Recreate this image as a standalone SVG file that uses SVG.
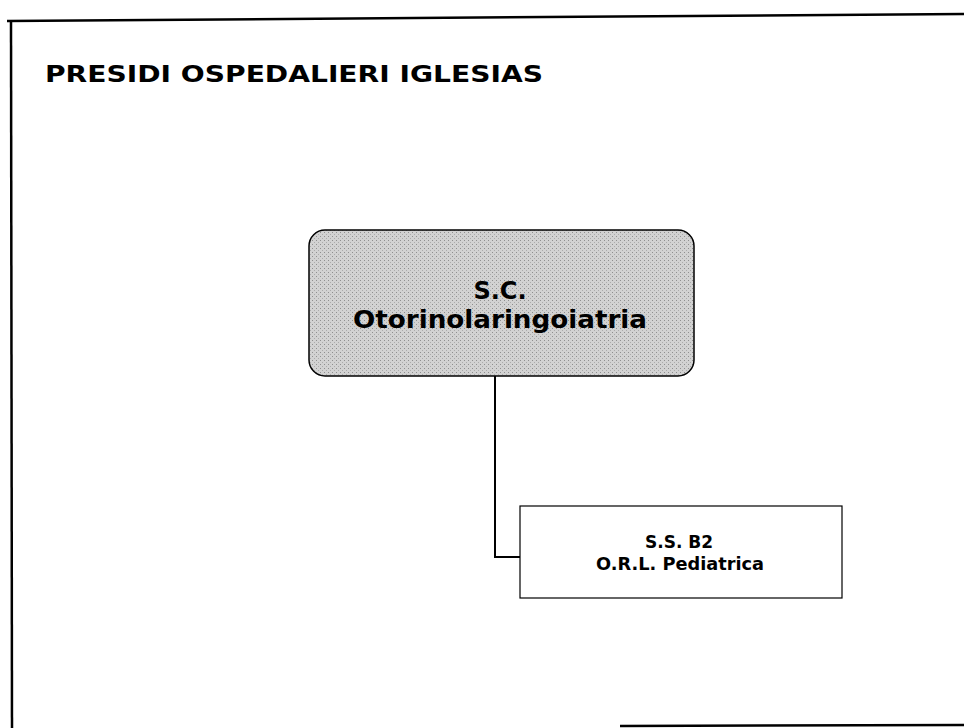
<svg xmlns="http://www.w3.org/2000/svg" width="964" height="728" viewBox="0 0 964 728">
<defs>
<style>
.t{font-family:"DejaVu Sans","Liberation Sans",sans-serif;font-weight:bold;fill:#000}
.frame{stroke:#000;stroke-width:2.5;fill:none}
.conn{stroke:#000;stroke-width:2;fill:none}
</style>
<pattern id="stip" width="4" height="4" patternUnits="userSpaceOnUse">
<rect width="4" height="4" fill="#d2d2d2"/>
<rect x="0" y="0" width="1" height="1" fill="#8f8f8f"/>
<rect x="2" y="2" width="1" height="1" fill="#ababab"/>
</pattern>
</defs>
<rect width="964" height="728" fill="#fff"/>
<g id="frame">
<line class="frame" x1="7" y1="21" x2="964" y2="14"/>
<line class="frame" x1="11" y1="20" x2="12" y2="728"/>
<line class="frame" x1="620" y1="726" x2="964" y2="725"/>
</g>
<text class="t" x="45" y="82" font-size="23" textLength="498" lengthAdjust="spacingAndGlyphs">PRESIDI OSPEDALIERI IGLESIAS</text>
<g id="connectors">
<polyline class="conn" points="495,376 495,557 521,557"/>
</g>
<g id="node-sc">
<rect x="309" y="230" width="385" height="146" rx="16" ry="16" fill="url(#stip)" stroke="#000" stroke-width="1.5"/>
<text class="t" x="500" y="299" font-size="24" text-anchor="middle">S.C.</text>
<text class="t" x="500" y="328" font-size="24" text-anchor="middle" textLength="294" lengthAdjust="spacingAndGlyphs">Otorinolaringoiatria</text>
</g>
<g id="node-ss">
<rect x="520" y="506" width="322" height="92" fill="#fff" stroke="#000" stroke-width="1.2"/>
<text class="t" x="679" y="548" font-size="17" text-anchor="middle">S.S. B2</text>
<text class="t" x="680" y="570" font-size="17" text-anchor="middle" textLength="168" lengthAdjust="spacingAndGlyphs">O.R.L. Pediatrica</text>
</g>
</svg>
